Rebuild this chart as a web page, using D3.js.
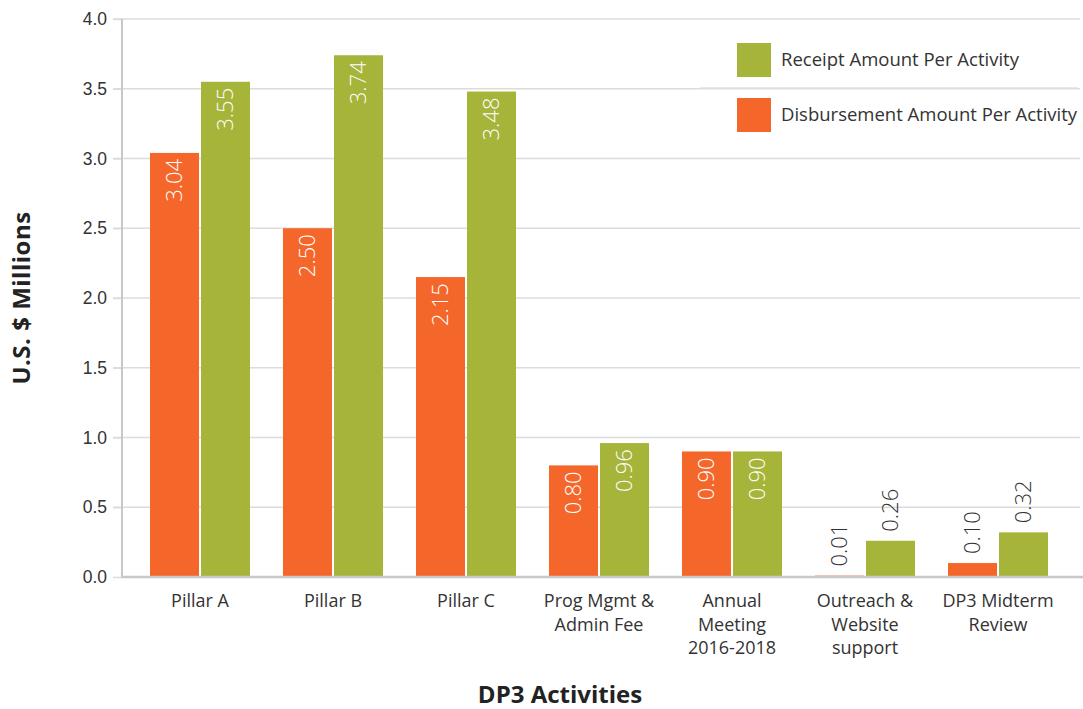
<!DOCTYPE html>
<html>
<head>
<meta charset="utf-8">
<script src="https://cdn.jsdelivr.net/npm/d3@7"></script>
<style>
  body { margin: 0; background: #fff; }
  svg { display: block; font-family: "Open Sans", "Lato", sans-serif; }
</style>
</head>
<body>
<script>
var categories = [
  ["Pillar A"],
  ["Pillar B"],
  ["Pillar C"],
  ["Prog Mgmt &", "Admin Fee"],
  ["Annual", "Meeting", "2016-2018"],
  ["Outreach &", "Website", "support"],
  ["DP3 Midterm", "Review"]
];
var disbursement = [3.04, 2.50, 2.15, 0.80, 0.90, 0.01, 0.10];
var receipt = [3.55, 3.74, 3.48, 0.96, 0.90, 0.26, 0.32];
var yTicks = [0, 0.5, 1.0, 1.5, 2.0, 2.5, 3.0, 3.5, 4.0];
var seriesNames = ["Disbursement Amount Per Activity", "Receipt Amount Per Activity"];
var colors = { disb: "#f4662a", rec: "#a6b43a" };

var width = 1083, height = 709;
var svg = d3.select("body").append("svg")
  .attr("width", width)
  .attr("height", height);

var catKeys = categories.map(function(c) { return c.join(" "); });

var x0 = d3.scaleBand().domain(catKeys).range([133.5, 1064.5]);
var x1 = d3.scaleBand().domain(["disb", "rec"])
  .range([x0.bandwidth() * 0.124, x0.bandwidth() * 0.876])
  .paddingInner(0.04);
var y = d3.scaleLinear().domain([0, 4]).range([577, 19]);

// gridlines
svg.append("g").selectAll("line")
  .data(yTicks.slice(1))
  .enter().append("line")
  .attr("x1", 113).attr("x2", 1080)
  .attr("y1", function(d) { return y(d); })
  .attr("y2", function(d) { return y(d); })
  .attr("stroke", "#dcdcdc")
  .attr("stroke-width", 1.5);

// y axis
var yAxis = svg.append("g")
  .attr("transform", "translate(122,0)")
  .call(d3.axisLeft(y).tickValues(yTicks).tickFormat(d3.format(".1f")).tickSize(9).tickPadding(6));
yAxis.select(".domain").remove();
yAxis.selectAll(".tick line").attr("stroke", "#dcdcdc").attr("stroke-width", 1.5);
yAxis.selectAll(".tick text").attr("fill", "#333").style("font-size", "17.5px");
svg.append("line")
  .attr("x1", 122).attr("x2", 122).attr("y1", 19).attr("y2", 578)
  .attr("stroke", "#c8c8c8").attr("stroke-width", 2);

var data = catKeys.map(function(k, i) {
  return { key: k, lines: categories[i], vals: [
    { s: "disb", v: disbursement[i] },
    { s: "rec", v: receipt[i] }
  ]};
});

var groups = svg.append("g").selectAll("g")
  .data(data)
  .enter().append("g")
  .attr("transform", function(d) { return "translate(" + x0(d.key) + ",0)"; });

groups.selectAll("rect")
  .data(function(d) { return d.vals; })
  .enter().append("rect")
  .attr("x", function(d) { return x1(d.s); })
  .attr("width", x1.bandwidth())
  .attr("y", function(d) { return y(d.v); })
  .attr("height", function(d) { return Math.max(1.5, y(0) - y(d.v)); })
  .attr("fill", function(d) { return colors[d.s]; });

groups.selectAll("text.val")
  .data(function(d) { return d.vals; })
  .enter().append("text")
  .attr("class", "val")
  .attr("transform", function(d) {
    var cx = x1(d.s) + x1.bandwidth() / 2;
    var inside = d.v > 0.5;
    var ty = inside ? y(d.v) + 6 : y(d.v) - 9;
    return "translate(" + cx + "," + ty + ") rotate(-90)";
  })
  .attr("text-anchor", function(d) { return d.v > 0.5 ? "end" : "start"; })
  .attr("dy", "0.35em")
  .attr("fill", function(d) { return d.v > 0.5 ? "#fff" : "#333"; })
  .style("font-size", "22px")
  .style("font-weight", 300)
  .text(function(d) { return d.v.toFixed(2); });

// x axis line
svg.append("line")
  .attr("x1", 122).attr("x2", 1083).attr("y1", 577).attr("y2", 577)
  .attr("stroke", "#c8c8c8").attr("stroke-width", 2.5);

// category labels
groups.append("text")
  .attr("x", x0.bandwidth() / 2)
  .attr("y", 607)
  .attr("text-anchor", "middle")
  .attr("fill", "#333")
  .style("font-size", "18px")
  .selectAll("tspan")
  .data(function(d) { return d.lines; })
  .enter().append("tspan")
  .attr("x", x0.bandwidth() / 2)
  .attr("dy", function(d, i) { return i === 0 ? 0 : 23.5; })
  .text(function(d) { return d; });

// axis titles
svg.append("text")
  .attr("transform", "translate(22,298) rotate(-90)")
  .attr("text-anchor", "middle")
  .attr("dy", "0.35em")
  .attr("fill", "#222")
  .style("font-size", "24px")
  .style("font-weight", "bold")
  .style("letter-spacing", "0.5px")
  .text("U.S. $ Millions");

svg.append("text")
  .attr("x", 560).attr("y", 703)
  .attr("text-anchor", "middle")
  .attr("fill", "#222")
  .style("font-size", "24px")
  .style("font-weight", "bold")
  .text("DP3 Activities");

// legend
var legend = svg.append("g");
var legItems = [
  { name: seriesNames[1], c: colors.rec, y: 43 },
  { name: seriesNames[0], c: colors.disb, y: 98 }
];
legend.append("line")
  .attr("x1", 700).attr("x2", 1078).attr("y1", 88).attr("y2", 88)
  .attr("stroke", "#e0e0e0").attr("stroke-width", 1.5);
legItems.forEach(function(it) {
  legend.append("rect")
    .attr("x", 737).attr("y", it.y).attr("width", 34).attr("height", 34)
    .attr("fill", it.c);
  legend.append("text")
    .attr("x", 781).attr("y", it.y + 17).attr("dy", "0.35em")
    .attr("fill", "#333")
    .style("font-size", "18.5px")
    .text(it.name);
});
</script>
</body>
</html>
